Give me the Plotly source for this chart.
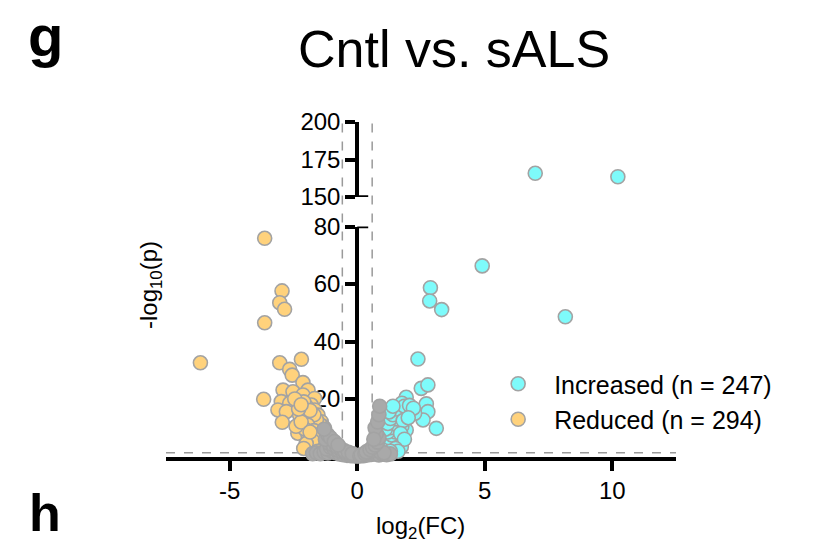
import numpy as np
import plotly.graph_objects as go

# ---------------- data ----------------
inc_x = [6.98, 10.22, 8.16, 4.90, 2.87, 2.84, 3.31, 2.38, 2.51, 2.77, 1.92, 2.71, 2.77, 2.58, 3.10,
         2.25, 1.99, 1.66, 1.66, 1.92, 1.66, 1.73, 1.40, 1.53, 1.34, 1.47,
         1.00, 1.10, 1.20, 1.30, 1.45, 1.55, 1.15, 1.25, 1.35, 1.50, 1.60, 1.75, 1.20, 1.30, 1.45,
         1.60, 1.75, 1.85, 1.10, 1.20, 1.30, 1.40, 1.55, 1.75, 1.85, 2.05, 2.20, 1.25, 1.40, 1.80,
         2.00, 1.70, 1.85, 1.50, 1.60, 1.30]
inc_y = [165.8, 163.5, 48.6, 66.3, 58.7, 54.1, 51.1, 33.9, 23.7, 24.9, 20.6, 18.3, 15.6, 12.7, 9.8,
         15.0, 16.2, 17.3, 15.6, 9.2, 6.9, 3.4, 5.7, 12.1, 11.0, 15.0,
         2.2, 3.0, 3.8, 4.6, 4.2, 5.0, 5.5, 6.5, 7.5, 8.5, 9.5, 10.5, 8.5, 10.0, 11.5,
         13.0, 14.0, 15.5, 9.5, 11.5, 13.2, 14.5, 16.5, 18.5, 17.5, 17.8, 16.8, 15.5, 17.5, 12.5,
         13.5, 8.0, 6.0, 2.8, 1.8, 1.8]

red_x = [-3.63, -2.95, -3.04, -2.85, -3.63, -6.15, -3.04, -2.19, -2.65, -2.55, -2.13, -3.67, -2.91,
         -2.52, -1.93, -2.98, -2.65, -3.11, -2.78, -2.26, -1.93, -2.94, -2.33, -1.93, -2.13, -1.67,
         -1.80, -1.67, -1.54, -1.41, -1.28, -1.54, -1.08, -1.80, -1.47, -0.95,
         -1.00, -1.10, -1.20, -1.30, -1.40, -1.50, -1.60, -1.70, -1.80, -1.90, -2.00, -2.10, -1.15,
         -1.25, -1.35, -1.45, -1.60, -1.70, -1.85, -1.95, -2.05, -1.70, -1.60, -1.75, -2.00, -1.30,
         -1.55, -2.10, -2.40, -2.20, -1.85, -2.30, -2.45, -2.20]
red_y = [75.9, 57.6, 53.5, 51.2, 46.5, 32.6, 32.6, 33.8, 30.3, 28.3, 25.7, 19.9, 23.1,
         22.5, 23.1, 19.1, 18.5, 16.2, 15.6, 14.4, 13.3, 11.9, 8.1, 7.5, 21.4, 20.2,
         17.9, 16.2, 14.4, 12.1, 9.8, 5.7, 5.7, 2.3, 3.4, 4.6,
         3.0, 4.0, 5.0, 6.2, 7.5, 9.0, 10.5, 12.0, 13.5, 15.5, 17.5, 19.0, 7.0,
         8.2, 10.5, 11.0, 12.8, 14.5, 16.0, 11.0, 9.5, 9.0, 7.5, 5.5, 4.5, 2.5,
         1.8, 2.8, 10.5, 12.0, 8.5, 16.5, 20.0, 18.0]

ns_x = [-1.75, -1.60, -1.45, -1.30, -1.15, -1.00, -0.85, -0.70, -0.55, -0.40, -0.25, -0.10, 0.00,
        -1.20, -1.05, -0.90, -0.75, -0.60, -0.45, -0.30, -0.15,
        -1.10, -0.95, -0.80, -0.65, -0.50, -0.35, -0.20,
        -1.25, -1.15, -1.05, -1.30, -0.90, -0.75,
        0.10, 0.25, 0.40, 0.55, 0.70, 0.85, 1.00, 1.15, 1.30,
        0.15, 0.30, 0.45, 0.60, 0.75, 0.90, 1.05,
        0.35, 0.50, 0.60, 0.70, 0.80, 0.85, 0.75,
        0.70, 0.80, 0.85, 0.88, 0.65]
ns_y = [1.0, 1.3, 1.0, 1.6, 1.2, 1.8, 1.3, 0.9, 0.6, 0.4, 0.3, 0.2, 0.15,
        2.6, 3.2, 2.7, 2.2, 1.7, 1.2, 0.8, 0.5,
        4.6, 4.0, 3.4, 2.8, 2.0, 1.5, 1.0,
        6.0, 7.5, 6.5, 9.5, 5.2, 4.0,
        0.2, 0.3, 0.5, 0.7, 0.9, 0.5, 0.8, 0.6, 0.9,
        0.6, 1.0, 1.5, 2.0, 2.5, 1.6, 1.3,
        1.6, 2.4, 3.2, 4.0, 5.0, 6.5, 8.0,
        10.0, 12.0, 14.5, 17.5, 6.0]

fc_threshold = 0.585      # log2(1.5)
p_threshold = 1.3         # -log10(0.05)
lower_ticks = [20, 40, 60, 80]
upper_ticks = [150, 175, 200]
x_ticks = [-5, 0, 5, 10]

# ---------------- styling ----------------
FONT = "Liberation Sans, Arial, Helvetica, sans-serif"
CYAN = "#7EFBFB"
ORANGE = "#FFD27C"
GRAY = "#A9A9A9"
EDGE = "#A3A3A3"
W, H = 820, 544

X_DOM = [166 / W, 676 / W]
Y_LO_DOM = [1 - 456.5 / H, 1 - 226.5 / H]
Y_HI_DOM = [1 - 197 / H, 1 - 122 / H]
BREAK = 100
YPOS = X_DOM[0] + (X_DOM[1] - X_DOM[0]) * 7.5 / 20

inc_x = np.array(inc_x); inc_y = np.array(inc_y)
red_x = np.array(red_x); red_y = np.array(red_y)
hi = inc_y > BREAK

mk = lambda c: dict(size=14, color=c, line=dict(color=EDGE, width=1.6))

fig = go.Figure()
fig.add_trace(go.Scatter(x=inc_x[~hi], y=inc_y[~hi], mode="markers", marker=mk(CYAN),
                         name="Increased (n = 247)", legendgroup="inc", cliponaxis=False))
fig.add_trace(go.Scatter(x=red_x, y=red_y, mode="markers", marker=mk(ORANGE),
                         name="Reduced (n = 294)", legendgroup="red", cliponaxis=False))
fig.add_trace(go.Scatter(x=inc_x[hi], y=inc_y[hi], mode="markers", marker=mk(CYAN),
                         yaxis="y2", showlegend=False, legendgroup="inc", cliponaxis=False))
fig.add_trace(go.Scatter(x=ns_x, y=ns_y, mode="markers", marker=mk(GRAY),
                         showlegend=False, cliponaxis=False))

axis_common = dict(showgrid=False, zeroline=False, showline=True, linecolor="black",
                   linewidth=4, ticks="outside", ticklen=10, tickwidth=3.5, tickcolor="black",
                   tickfont=dict(family=FONT, size=24, color="black"), layer="below traces",
                   automargin=False)

fig.update_layout(
    width=W, height=H, autosize=False,
    margin=dict(l=0, r=0, t=0, b=0, autoexpand=False),
    paper_bgcolor="white", plot_bgcolor="white",
    font=dict(family=FONT, color="black"),
    xaxis=dict(domain=X_DOM, range=[-7.5, 12.5], anchor="y", tickvals=x_ticks,
               ticktext=[str(v) for v in x_ticks], **axis_common),
    yaxis=dict(domain=Y_LO_DOM, range=[0, 80], anchor="free", position=YPOS,
               tickvals=lower_ticks, **axis_common),
    yaxis2=dict(domain=Y_HI_DOM, range=[150, 200], anchor="free", position=YPOS,
                tickvals=upper_ticks, **axis_common),
    showlegend=True,
    legend=dict(x=0.588, y=1 - 361 / H, xanchor="left", yanchor="top",
                font=dict(family=FONT, size=25, color="black"),
                bgcolor="rgba(0,0,0,0)", itemwidth=62, tracegroupgap=0),
)

dash = dict(color="#9A9A9A", width=1.5, dash="dash")
for xv in (-fc_threshold, fc_threshold):
    fig.add_shape(type="line", xref="x", yref="paper", x0=xv, x1=xv,
                  y0=Y_LO_DOM[0], y1=Y_HI_DOM[1], line=dash, layer="below")
fig.add_shape(type="line", xref="x", yref="y", x0=-7.5, x1=12.5,
              y0=p_threshold, y1=p_threshold, line=dash, layer="below")
# break caps of the y axis
fig.add_shape(type="line", xref="x", yref="y", x0=0, x1=0.43, y0=80, y1=80,
              line=dict(color="black", width=3.5), layer="below")
fig.add_shape(type="line", xref="x", yref="y2", x0=0, x1=0.43, y0=150, y1=150,
              line=dict(color="black", width=3.5), layer="below")

fig.add_annotation(text="Cntl vs. sALS", x=454 / W, y=1 - 49 / H, xref="paper", yref="paper",
                   showarrow=False, font=dict(family=FONT, size=52, color="black"),
                   xanchor="center", yanchor="middle")
fig.add_annotation(text="<b>g</b>", x=45 / W, y=1 - 1 / H, xref="paper", yref="paper",
                   showarrow=False, font=dict(family=FONT, size=58, color="black"),
                   xanchor="center", yanchor="top")
fig.add_annotation(text="<b>h</b>", x=45 / W, y=0, xref="paper", yref="paper",
                   showarrow=False, font=dict(family=FONT, size=52, color="black"),
                   xanchor="center", yanchor="bottom")
fig.add_annotation(text="log<sub>2</sub>(FC)", x=420 / W, y=1 - 527 / H, xref="paper", yref="paper",
                   showarrow=False, font=dict(family=FONT, size=24, color="black"),
                   xanchor="center", yanchor="middle")
fig.add_annotation(text="-log<sub>10</sub>(p)", x=150 / W, y=1 - 285 / H, xref="paper", yref="paper",
                   showarrow=False, textangle=-90, font=dict(family=FONT, size=24, color="black"),
                   xanchor="center", yanchor="middle")

fig.write_html("out.html")
